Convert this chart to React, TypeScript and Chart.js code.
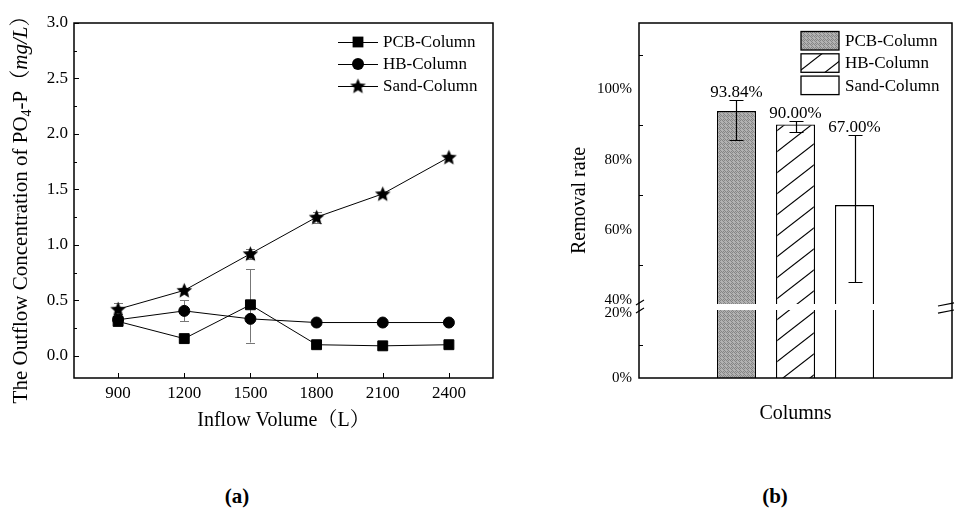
import React, { useEffect, useRef } from 'react';
import { Chart, registerables } from 'chart.js';

Chart.register(...registerables);

const FONT = '"Liberation Serif", "Noto Serif CJK SC", "Noto Sans CJK SC", serif';

// ---------- Panel (a) data ----------
const INFLOW_VOLUMES = [900, 1200, 1500, 1800, 2100, 2400];
const PCB_CONC = [0.31, 0.155, 0.46, 0.1, 0.09, 0.1];
const HB_CONC = [0.325, 0.405, 0.333, 0.3, 0.3, 0.3];
const SAND_CONC = [0.42, 0.59, 0.92, 1.25, 1.46, 1.79];
const PCB_ERR_LOW = [null, null, 0.12, null, null, null];
const PCB_ERR_HIGH = [null, null, 0.78, null, null, null];
const HB_ERR_LOW = [null, 0.31, null, null, null, null];
const HB_ERR_HIGH = [null, 0.5, null, null, null, null];
const SAND_ERR_LOW = [0.38, null, 0.87, 1.2, null, null];
const SAND_ERR_HIGH = [0.48, null, 0.96, 1.3, null, null];
const A_SERIES_NAMES = ['PCB-Column', 'HB-Column', 'Sand-Column'];
const A_X_MIN = 700;
const A_X_MAX = 2600;
const A_Y_MIN = -0.2;
const A_Y_MAX = 3.0;
const A_Y_TICKS = [0, 0.5, 1.0, 1.5, 2.0, 2.5, 3.0];
const A_Y_MINOR_TICKS = [0.25, 0.75, 1.25, 1.75, 2.25, 2.75];

// ---------- Panel (b) data ----------
const B_CATEGORY = ['Columns'];
const COLUMN_NAMES = ['PCB-Column', 'HB-Column', 'Sand-Column'];
const REMOVAL_RATE = [93.84, 90.0, 67.0];
const REMOVAL_ERR_LOW = [85.7, 87.9, 45.0];
const REMOVAL_ERR_HIGH = [96.9, 91.0, 87.0];
const B_LOW_MIN = 0;
const B_LOW_MAX = 21.8;
const B_HIGH_MIN = 37.9;
const B_HIGH_MAX = 119;
const B_LOW_TICKS = [0, 20];
const B_HIGH_TICKS = [40, 60, 80, 100];
const B_LOW_MINOR = [10];
const B_HIGH_MINOR = [50, 70, 90, 110];

Chart.defaults.font.family = FONT;
Chart.defaults.color = '#000';

function makeStar(): HTMLCanvasElement {
  const c = document.createElement('canvas');
  c.width = 19;
  c.height = 19;
  const g = c.getContext('2d')!;
  g.fillStyle = '#000';
  g.beginPath();
  const cx = 9.5, cy = 10.1, R = 8.2, r = 3.7;
  for (let k = 0; k < 10; k++) {
    const ang = -Math.PI / 2 + (k * Math.PI) / 5;
    const rad = k % 2 === 0 ? R : r;
    const px = cx + rad * Math.cos(ang);
    const py = cy + rad * Math.sin(ang);
    if (k === 0) g.moveTo(px, py);
    else g.lineTo(px, py);
  }
  g.closePath();
  g.fill();
  return c;
}

function drawMarker(ctx: CanvasRenderingContext2D, style: any, x: number, y: number) {
  ctx.save();
  ctx.fillStyle = '#000';
  if (style === 'rect') {
    ctx.fillRect(x - 5.4, y - 5.4, 10.8, 10.8);
  } else if (style === 'circle') {
    ctx.beginPath();
    ctx.arc(x, y, 6, 0, Math.PI * 2);
    ctx.fill();
  } else {
    ctx.drawImage(style, x - style.width / 2, y - style.height / 2);
  }
  ctx.restore();
}

type Part = { text: string; font: string; dy: number };
function drawRotatedRich(ctx: CanvasRenderingContext2D, cx: number, cy: number, parts: Part[]) {
  ctx.save();
  ctx.translate(cx, cy);
  ctx.rotate(-Math.PI / 2);
  let total = 0;
  parts.forEach((p) => {
    ctx.font = p.font;
    total += ctx.measureText(p.text).width;
  });
  let x = -total / 2;
  ctx.textAlign = 'left';
  ctx.textBaseline = 'alphabetic';
  ctx.fillStyle = '#000';
  parts.forEach((p) => {
    ctx.font = p.font;
    ctx.fillText(p.text, x, p.dy);
    x += ctx.measureText(p.text).width;
  });
  ctx.restore();
}

function PanelA() {
  const ref = useRef<HTMLCanvasElement>(null);
  useEffect(() => {
    const canvas = ref.current!;
    const star = makeStar();
    const styles: any[] = ['rect', 'circle', star];
    const values = [PCB_CONC, HB_CONC, SAND_CONC];
    const lows = [PCB_ERR_LOW, HB_ERR_LOW, SAND_ERR_LOW];
    const highs = [PCB_ERR_HIGH, HB_ERR_HIGH, SAND_ERR_HIGH];

    const plugin = {
      id: 'panelA',
      beforeDatasetsDraw(chart: any) {
        const { ctx } = chart;
        const xs = chart.scales.x;
        const ys = chart.scales.y;
        ctx.save();
        ctx.strokeStyle = '#777';
        ctx.lineWidth = 1;
        lows.forEach((lo, s) => {
          lo.forEach((l, i) => {
            const h = highs[s][i];
            if (l == null || h == null) return;
            const px = Math.round(xs.getPixelForValue(INFLOW_VOLUMES[i])) + 0.5;
            const y1 = ys.getPixelForValue(l);
            const y2 = ys.getPixelForValue(h);
            ctx.beginPath();
            ctx.moveTo(px, y1);
            ctx.lineTo(px, y2);
            ctx.moveTo(px - 4.5, Math.round(y1) + 0.5);
            ctx.lineTo(px + 4.5, Math.round(y1) + 0.5);
            ctx.moveTo(px - 4.5, Math.round(y2) + 0.5);
            ctx.lineTo(px + 4.5, Math.round(y2) + 0.5);
            ctx.stroke();
          });
        });
        ctx.restore();
      },
      afterDraw(chart: any) {
        const { ctx, chartArea: a } = chart;
        const xs = chart.scales.x;
        const ys = chart.scales.y;
        ctx.save();
        ctx.strokeStyle = '#000';
        ctx.lineWidth = 1.5;
        ctx.strokeRect(a.left, a.top, a.right - a.left, a.bottom - a.top);
        ctx.lineWidth = 1;
        ctx.beginPath();
        A_Y_TICKS.forEach((v) => {
          const y = Math.round(ys.getPixelForValue(v)) + 0.5;
          ctx.moveTo(a.left, y);
          ctx.lineTo(a.left + 5, y);
        });
        A_Y_MINOR_TICKS.forEach((v) => {
          const y = Math.round(ys.getPixelForValue(v)) + 0.5;
          ctx.moveTo(a.left, y);
          ctx.lineTo(a.left + 3, y);
        });
        INFLOW_VOLUMES.forEach((v) => {
          const x = Math.round(xs.getPixelForValue(v)) + 0.5;
          ctx.moveTo(x, a.bottom);
          ctx.lineTo(x, a.bottom - 5);
        });
        ctx.stroke();

        // legend
        const lx = a.right - 155;
        A_SERIES_NAMES.forEach((name, i) => {
          const y = a.top + 19 + i * 22;
          ctx.beginPath();
          ctx.strokeStyle = '#000';
          ctx.lineWidth = 1;
          ctx.moveTo(lx, y + 0.5);
          ctx.lineTo(lx + 40, y + 0.5);
          ctx.stroke();
          drawMarker(ctx, styles[i], lx + 20, y);
          ctx.fillStyle = '#000';
          ctx.font = '17px ' + FONT;
          ctx.textAlign = 'left';
          ctx.textBaseline = 'middle';
          ctx.fillText(name, lx + 45, y + 1);
        });

        // y title
        const f = '21px ' + FONT;
        drawRotatedRich(ctx, 20, (a.top + a.bottom) / 2 + 4, [
          { text: 'The Outflow Concentration of PO', font: f, dy: 7 },
          { text: '4', font: '14px ' + FONT, dy: 11 },
          { text: '-P（', font: f, dy: 7 },
          { text: 'mg/L', font: 'italic ' + f, dy: 7 },
          { text: '）', font: f, dy: 7 },
        ]);
        ctx.restore();
      },
    };

    const chart = new Chart(canvas, {
      type: 'line',
      data: {
        datasets: values.map((vals, s) => ({
          label: A_SERIES_NAMES[s],
          data: vals.map((v, i) => ({ x: INFLOW_VOLUMES[i], y: v })),
          borderColor: '#000',
          backgroundColor: '#000',
          borderWidth: 1,
          pointStyle: styles[s],
          pointRadius: s === 0 ? 7 : s === 1 ? 5.5 : 9,
          pointBorderWidth: 1,
          pointBorderColor: '#000',
          pointBackgroundColor: '#000',
          fill: false,
        })),
      },
      options: {
        animation: false,
        responsive: false,
        devicePixelRatio: 1,
        layout: { padding: { top: 23, right: 27, left: 0, bottom: 0 } },
        plugins: { legend: { display: false }, tooltip: { enabled: false } },
        scales: {
          x: {
            type: 'linear',
            min: A_X_MIN,
            max: A_X_MAX,
            grid: { display: false, drawTicks: false },
            border: { display: false },
            afterBuildTicks: (scale: any) => {
              scale.ticks = INFLOW_VOLUMES.map((v) => ({ value: v }));
            },
            afterFit: (scale: any) => {
              scale.height = 72;
            },
            ticks: {
              padding: 5,
              font: { size: 17, family: FONT },
              color: '#000',
              callback: (v: any) => String(v),
            },
            title: {
              display: true,
              text: 'Inflow Volume（L）',
              font: { size: 20, family: FONT },
              color: '#000',
              padding: { top: 0, bottom: 17 },
            },
          },
          y: {
            type: 'linear',
            min: A_Y_MIN,
            max: A_Y_MAX,
            grid: { display: false, drawTicks: false },
            border: { display: false },
            afterBuildTicks: (scale: any) => {
              scale.ticks = A_Y_TICKS.map((v) => ({ value: v }));
            },
            afterFit: (scale: any) => {
              scale.width = 74;
            },
            ticks: {
              padding: 6,
              font: { size: 17, family: FONT },
              color: '#000',
              callback: (v: any) => Number(v).toFixed(1),
            },
          },
        },
      } as any,
      plugins: [plugin],
    });
    return () => chart.destroy();
  }, []);
  return (
    <canvas
      ref={ref}
      width={520}
      height={450}
      style={{ position: 'absolute', left: 0, top: 0, width: 520, height: 450 }}
    />
  );
}

function PanelB() {
  const ref = useRef<HTMLCanvasElement>(null);
  useEffect(() => {
    const canvas = ref.current!;
    const ctx0 = canvas.getContext('2d')!;

    // stipple pattern
    const st = document.createElement('canvas');
    st.width = 4;
    st.height = 4;
    const sg = st.getContext('2d')!;
    sg.fillStyle = '#b2b2b2';
    sg.fillRect(0, 0, 4, 4);
    sg.fillStyle = '#858585';
    [[0, 0], [2, 0], [1, 1], [3, 1], [0, 2], [2, 2], [1, 3], [3, 3]].forEach(([x, y], k) => {
      if (k % 3 !== 2) sg.fillRect(x, y, 1, 1);
    });
    const stipple = ctx0.createPattern(st, 'repeat')!;

    // hatch pattern
    const ht = document.createElement('canvas');
    ht.width = 27;
    ht.height = 21;
    const hg = ht.getContext('2d')!;
    hg.fillStyle = '#fff';
    hg.fillRect(0, 0, 27, 21);
    hg.strokeStyle = '#000';
    hg.lineWidth = 1.1;
    for (let dx = -1; dx <= 1; dx++) {
      for (let dy = -1; dy <= 1; dy++) {
        hg.beginPath();
        hg.moveTo(dx * 27, 21 + dy * 21);
        hg.lineTo(27 + dx * 27, dy * 21);
        hg.stroke();
      }
    }
    const hatch = ctx0.createPattern(ht, 'repeat')!;

    const fills: any[] = [stipple, hatch, '#fff'];

    const plugin = {
      id: 'panelB',
      afterDatasetsDraw(chart: any) {
        const { ctx, chartArea: a } = chart;
        const hi = chart.scales.yHigh;
        const seam = chart.scales.yLow.top;
        ctx.save();
        ctx.fillStyle = '#fff';
        ctx.fillRect(a.left + 1, seam - 3, a.right - a.left - 2, 6);

        // error bars + labels
        COLUMN_NAMES.forEach((_, k) => {
          const meta = chart.getDatasetMeta(COLUMN_NAMES.length + k);
          const bar = meta.data[0];
          const x = Math.round(bar.x) + 0.5;
          const yTop = Math.round(hi.getPixelForValue(REMOVAL_ERR_HIGH[k])) + 0.5;
          const yBot = Math.round(hi.getPixelForValue(REMOVAL_ERR_LOW[k])) + 0.5;
          ctx.strokeStyle = '#000';
          ctx.lineWidth = 1.2;
          ctx.beginPath();
          ctx.moveTo(x, yTop);
          ctx.lineTo(x, yBot);
          ctx.moveTo(x - 7, yTop);
          ctx.lineTo(x + 7, yTop);
          ctx.moveTo(x - 7, yBot);
          ctx.lineTo(x + 7, yBot);
          ctx.stroke();
          ctx.fillStyle = '#000';
          ctx.font = '17px ' + FONT;
          ctx.textAlign = 'center';
          ctx.textBaseline = 'alphabetic';
          ctx.fillText(REMOVAL_RATE[k].toFixed(2) + '%', bar.x, yTop - 3.5);
        });
        ctx.restore();
      },
      afterDraw(chart: any) {
        const { ctx, chartArea: a } = chart;
        const lo = chart.scales.yLow;
        const hi = chart.scales.yHigh;
        const seam = lo.top;
        ctx.save();
        ctx.strokeStyle = '#000';
        ctx.lineWidth = 1.5;
        ctx.strokeRect(a.left, a.top, a.right - a.left, a.bottom - a.top);
        ctx.lineWidth = 1;
        ctx.beginPath();
        B_LOW_MINOR.forEach((v) => {
          const y = Math.round(lo.getPixelForValue(v)) + 0.5;
          ctx.moveTo(a.left, y);
          ctx.lineTo(a.left + 4, y);
        });
        B_HIGH_MINOR.forEach((v) => {
          const y = Math.round(hi.getPixelForValue(v)) + 0.5;
          ctx.moveTo(a.left, y);
          ctx.lineTo(a.left + 4, y);
        });
        ctx.stroke();

        // break marks
        ctx.lineWidth = 1.2;
        ctx.beginPath();
        [-4.5, 3.5].forEach((d) => {
          ctx.moveTo(a.left - 3, seam + d + 2.5);
          ctx.lineTo(a.left + 5, seam + d - 2.5);
        });
        [-2.6, 4.6].forEach((d) => {
          ctx.moveTo(a.right - 14, seam + d + 1.6);
          ctx.lineTo(a.right + 2, seam + d - 1.6);
        });
        ctx.stroke();

        // legend
        const bx = a.left + 162;
        COLUMN_NAMES.forEach((name, i) => {
          const top = a.top + 8.5 + i * 22.3;
          ctx.fillStyle = fills[i];
          ctx.fillRect(bx, top, 38, 18.5);
          ctx.lineWidth = 1.3;
          ctx.strokeStyle = '#000';
          ctx.strokeRect(bx, top, 38, 18.5);
          ctx.fillStyle = '#000';
          ctx.font = '17px ' + FONT;
          ctx.textAlign = 'left';
          ctx.textBaseline = 'middle';
          ctx.fillText(name, bx + 44, top + 10);
        });

        // y title
        drawRotatedRich(ctx, 38, (a.top + a.bottom) / 2, [
          { text: 'Removal rate', font: '20px ' + FONT, dy: 7 },
        ]);
        ctx.restore();
      },
    };

    const lowSets = COLUMN_NAMES.map((name, k) => ({
      label: name,
      data: [Math.min(REMOVAL_RATE[k], B_LOW_MAX)],
      yAxisID: 'yLow',
      stack: name,
      backgroundColor: fills[k],
      borderColor: '#000',
      borderWidth: 1.3,
      borderSkipped: 'start',
      categoryPercentage: 0.5655,
      barPercentage: 0.661,
    }));
    const highSets = COLUMN_NAMES.map((name, k) => ({
      label: name,
      data: [REMOVAL_RATE[k]],
      yAxisID: 'yHigh',
      stack: name,
      base: B_HIGH_MIN,
      backgroundColor: fills[k],
      borderColor: '#000',
      borderWidth: 1.3,
      borderSkipped: 'start',
      categoryPercentage: 0.5655,
      barPercentage: 0.661,
    }));

    const chart = new Chart(canvas, {
      type: 'bar',
      data: { labels: B_CATEGORY, datasets: [...lowSets, ...highSets] as any },
      options: {
        animation: false,
        responsive: false,
        devicePixelRatio: 1,
        layout: { padding: { top: 23, right: 4, left: 0, bottom: 0 } },
        plugins: { legend: { display: false }, tooltip: { enabled: false } },
        scales: {
          x: {
            type: 'category',
            grid: { display: false, drawTicks: false },
            border: { display: false },
            ticks: { display: false },
            afterFit: (scale: any) => {
              scale.height = 72;
            },
            title: {
              display: true,
              text: 'Columns',
              font: { size: 20, family: FONT },
              color: '#000',
              padding: { top: 0, bottom: 24 },
            },
          },
          yLow: {
            type: 'linear',
            position: 'left',
            stack: 'rate',
            stackWeight: 1,
            stacked: false,
            min: B_LOW_MIN,
            max: B_LOW_MAX,
            grid: { display: false, drawTicks: false },
            border: { display: false },
            afterBuildTicks: (scale: any) => {
              scale.ticks = B_LOW_TICKS.map((v) => ({ value: v }));
            },
            afterFit: (scale: any) => {
              scale.width = 99;
            },
            ticks: {
              padding: 7,
              font: { size: 15, family: FONT },
              color: '#000',
              callback: (v: any) => v + '%',
            },
          },
          yHigh: {
            type: 'linear',
            position: 'left',
            stack: 'rate',
            stackWeight: 4,
            stacked: false,
            min: B_HIGH_MIN,
            max: B_HIGH_MAX,
            grid: { display: false, drawTicks: false },
            border: { display: false },
            afterBuildTicks: (scale: any) => {
              scale.ticks = B_HIGH_TICKS.map((v) => ({ value: v }));
            },
            afterFit: (scale: any) => {
              scale.width = 99;
            },
            ticks: {
              padding: 7,
              font: { size: 15, family: FONT },
              color: '#000',
              callback: (v: any) => v + '%',
            },
          },
        },
      } as any,
      plugins: [plugin],
    });
    return () => chart.destroy();
  }, []);
  return (
    <canvas
      ref={ref}
      width={416}
      height={450}
      style={{ position: 'absolute', left: 540, top: 0, width: 416, height: 450 }}
    />
  );
}

export default function App() {
  const cap: React.CSSProperties = {
    position: 'absolute',
    top: 484,
    transform: 'translateX(-50%)',
    font: 'bold 21px ' + FONT,
    color: '#000',
    whiteSpace: 'nowrap',
  };
  return (
    <div
      style={{
        position: 'fixed',
        left: 0,
        top: 0,
        width: 956,
        height: 512,
        background: '#fff',
        overflow: 'hidden',
      }}
    >
      <PanelA />
      <PanelB />
      <div style={{ ...cap, left: 237 }}>(a)</div>
      <div style={{ ...cap, left: 775 }}>(b)</div>
    </div>
  );
}
